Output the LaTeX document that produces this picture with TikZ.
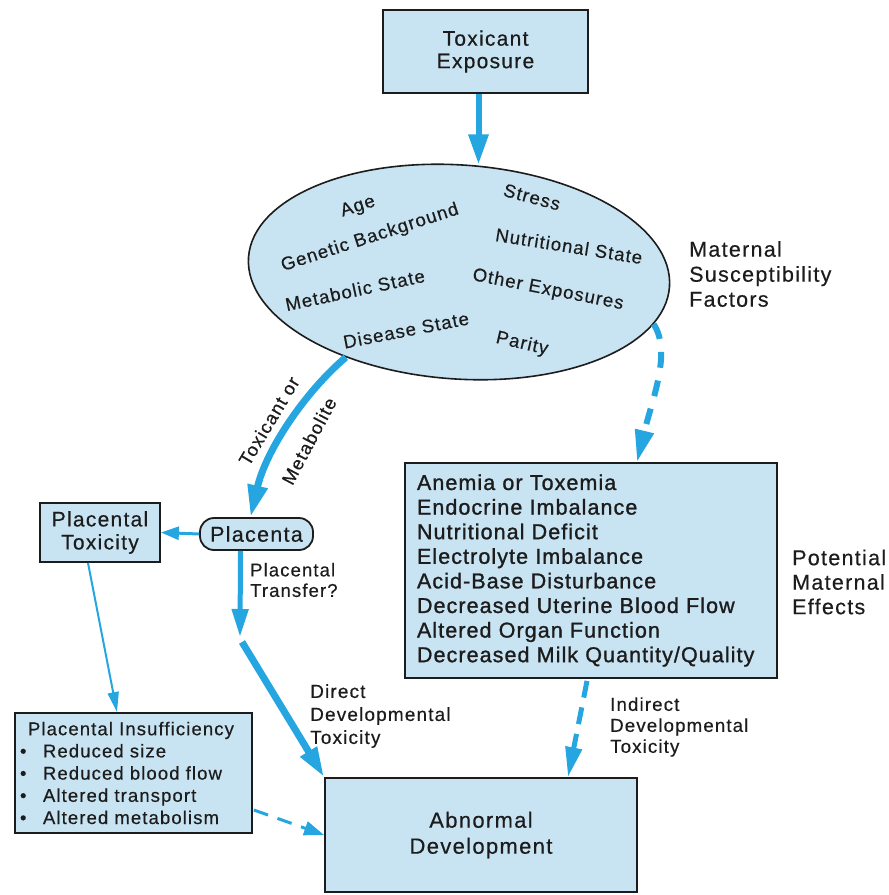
\documentclass[tikz,border=0pt]{standalone}
\usepackage{fontspec}
\setmainfont{Liberation Sans}[LetterSpace=6,FakeBold=0.4]
\newfontfamily\heavyfont{Liberation Sans}[LetterSpace=5,FakeBold=1.2]
\usetikzlibrary{arrows.meta,shapes.geometric,calc}
\definecolor{fillblue}{RGB}{200,228,242}
\definecolor{arrowblue}{RGB}{38,166,224}
\definecolor{ink}{RGB}{28,28,28}
\begin{document}
\begin{tikzpicture}[x=1pt,y=-1pt,
  box/.style={draw=ink,line width=1.8pt,fill=fillblue,inner sep=0pt,text=ink},
  lbl/.style={inner sep=0pt,text=ink},
  elltxt/.style={lbl,font=\fontsize{18.5}{22}\selectfont},
  flowtop/.style={draw=arrowblue,line width=6pt,-{Triangle[length=30pt,width=19pt]}},
  flowcurve/.style={draw=arrowblue,line width=7pt,-{Triangle[length=32pt,width=19pt]}},
  flowside/.style={draw=arrowblue,line width=3pt,-{Triangle[length=18pt,width=13pt]}},
  flowdown/.style={draw=arrowblue,line width=5pt,-{Triangle[length=28pt,width=16pt]}},
  flowdirect/.style={draw=arrowblue,line width=7pt,-{Triangle[length=30pt,width=18pt]}},
  flowthin/.style={draw=arrowblue,line width=2pt,-{Triangle[length=20pt,width=11pt]}},
  dashbig/.style={draw=arrowblue,line width=6pt,dash pattern=on 16pt off 13pt,-{Triangle[length=32pt,width=18pt]}},
  dashmid/.style={draw=arrowblue,line width=5pt,dash pattern=on 17pt off 10pt,-{Triangle[length=30pt,width=16pt]}},
  dashthin/.style={draw=arrowblue,line width=3pt,dash pattern=on 15pt off 10pt,-{Triangle[length=20pt,width=14pt]}}
]
\useasboundingbox (0,0) rectangle (889,895);

% boxes
\node[box,minimum width=205pt,minimum height=83pt,align=center,
      font=\fontsize{21}{22.5}\selectfont] (tox) at (485.5,51.5) {Toxicant\\Exposure};

\node[ellipse,draw=ink,line width=1.6pt,fill=fillblue,minimum width=422pt,
      minimum height=214pt,inner sep=0pt,rotate=-4] (ell) at (459,272) {};

\node[box,minimum width=120pt,minimum height=59pt,align=center,
      font=\fontsize{21}{23}\selectfont] (ptox) at (100,532.5) {Placental\\Toxicity};

\node[box,rounded corners=14pt,minimum width=113pt,minimum height=32pt,
      font=\fontsize{21.5}{23}\selectfont] (plac) at (256.5,534) {Placenta};

\node[box,minimum width=372pt,minimum height=215pt,text width=348pt,align=left,
      font=\heavyfont\fontsize{21.5}{24.6}\selectfont] (rbox) at (591,570.5)
  {Anemia or Toxemia\\Endocrine Imbalance\\Nutritional Deficit\\Electrolyte Imbalance\\Acid-Base Disturbance\\Decreased Uterine Blood Flow\\Altered Organ Function\\Decreased Milk Quantity/Quality};

\node[box,minimum width=237pt,minimum height=120pt,text width=231pt,align=left,
      font=\fontsize{18.5}{22.2}\selectfont] (pins) at (133.5,773)
  {\hspace*{10pt}Placental Insufficiency\\
   \makebox[25pt][l]{\hspace*{2pt}•}Reduced size\\
   \makebox[25pt][l]{\hspace*{2pt}•}Reduced blood flow\\
   \makebox[25pt][l]{\hspace*{2pt}•}Altered transport\\
   \makebox[25pt][l]{\hspace*{2pt}•}Altered metabolism};

\node[box,minimum width=312pt,minimum height=114pt,align=center,
      font=\fontsize{22}{26}\selectfont] (abn) at (481,835) {Abnormal\\Development};

% ellipse texts
\node[elltxt,rotate=18] (t1) at (358,207) {Age};
\node[elltxt,rotate=18] (t2) at (370,238) {Genetic Background};
\node[elltxt,rotate=12] (t3) at (355,290) {Metabolic State};
\node[elltxt,rotate=11] (t4) at (406,330) {Disease State};
\node[elltxt,rotate=-15] (t5) at (532,197) {Stress};
\node[elltxt,rotate=-9] (t6) at (569,246) {Nutritional State};
\node[elltxt,rotate=-11] (t7) at (548,290) {Other Exposures};
\node[elltxt,rotate=-13] (t8) at (522,344) {Parity};

% side labels
\node[lbl,anchor=west,align=left,font=\fontsize{21.5}{25}\selectfont] (msf) at (689,274)
  {Maternal\\Susceptibility\\Factors};
\node[lbl,anchor=west,align=left,font=\fontsize{21.5}{24.5}\selectfont] (pme) at (792,582)
  {Potential\\Maternal\\Effects};
\node[lbl,rotate=59,font=\fontsize{18.5}{22}\selectfont] (lto) at (269,421) {Toxicant or};
\node[lbl,rotate=62,font=\fontsize{18.5}{22}\selectfont] (lme) at (309,441) {Metabolite};
\node[lbl,anchor=west,align=left,font=\fontsize{18.5}{20.5}\selectfont] (lpt) at (250,580)
  {Placental\\Transfer?};
\node[lbl,anchor=west,align=left,font=\fontsize{19}{23}\selectfont] (ldd) at (310,716)
  {Direct\\Developmental\\Toxicity};
\node[lbl,anchor=west,align=left,font=\fontsize{18.7}{21}\selectfont] (lid) at (610,727)
  {Indirect\\Developmental\\Toxicity};

% connectors
\draw[flowtop] ([xshift=-7pt]tox.south) -- ([xshift=-7pt]tox.south |- ell.north);
\draw[flowcurve] (ell.221) .. controls (305,392) and (266,450) .. ($(plac.north)+(-6,0)$);
\draw[flowside] (plac.west) -- (ptox.east);
\coordinate (tr) at (240,637);
\coordinate (trb) at (242,642);
\draw[flowdown] ($(plac.south)+(-16,0)$) -- (tr);
\draw[flowdirect] (trb) -- (abn.north west);
\draw[flowthin] ([xshift=-12pt]ptox.south) -- ([xshift=-16.5pt]pins.north);
\draw[dashthin] ($(pins.east)+(1,37)$) -- (abn.west);
\draw[dashbig] (ell.-11) .. controls (672,352) and (652,400) .. ($(rbox.north)+(46,0)$);
\draw[dashmid] ($(rbox.south)+(-4,2)$) -- ($(abn.north)+(87,0)$);
\end{tikzpicture}
\end{document}
